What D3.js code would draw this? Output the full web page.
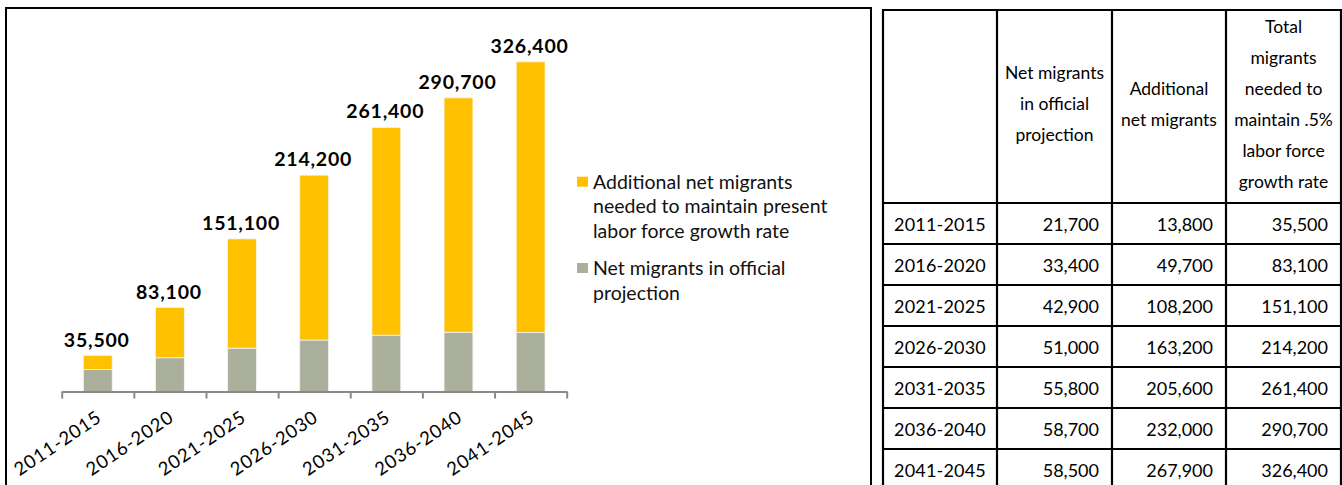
<!DOCTYPE html>
<html>
<head>
<meta charset="utf-8">
<script src="https://cdn.jsdelivr.net/npm/d3@7/dist/d3.min.js"></script>
<style>
  html, body { margin: 0; padding: 0; background: #fff; }
  svg { display: block; font-family: Lato, "Noto Sans", sans-serif; }
</style>
</head>
<body>
<svg id="chart" width="1342" height="485"></svg>
<script>
// Five-year periods
const periods = ["2011-2015", "2016-2020", "2021-2025", "2026-2030", "2031-2035", "2036-2040", "2041-2045"];
// Net migrants in the official projection
const official = [21700, 33400, 42900, 51000, 55800, 58700, 58500];
// Additional net migrants needed to keep the labor force growing
const additional = [13800, 49700, 108200, 163200, 205600, 232000, 267900];
// Total migrants needed to maintain .5% labor force growth
const totals = [35500, 83100, 151100, 214200, 261400, 290700, 326400];

const seriesNames = [
  ["Additional net migrants", "needed to maintain present", "labor force growth rate"],
  ["Net migrants in official", "projection"]
];
const tableHeaders = [
  [],
  ["Net migrants", "in official", "projection"],
  ["Additional", "net migrants"],
  ["Total", "migrants", "needed to", "maintain .5%", "labor force", "growth rate"]
];

const YELLOW = "#ffc000";
const GREY = "#aab09c";

const svg = d3.select("#chart");
const fmt = d3.format(",");

// ---- chart frame ----
svg.append("rect")
  .attr("x", 6).attr("y", 8).attr("width", 865).attr("height", 600)
  .attr("fill", "none").attr("stroke", "#000").attr("stroke-width", 2);

// ---- scales ----
const x0 = 61.7, x1 = 566.7, baseY = 391.5;
const x = d3.scaleBand().domain(periods).range([x0, x1])
  .paddingInner(0.6).paddingOuter(0.3);
const y = d3.scaleLinear().domain([0, 350000]).range([baseY, 38]);

const stack = d3.stack().keys(["official", "additional"]);
const rows = periods.map((p, i) => ({ period: p, official: official[i], additional: additional[i] }));
const layers = stack(rows);
const colors = { official: GREY, additional: YELLOW };

const g = svg.append("g");
g.selectAll("g.layer").data(layers).join("g")
  .attr("class", "layer")
  .attr("fill", d => colors[d.key])
  .selectAll("rect").data(d => d).join("rect")
  .attr("x", d => x(d.data.period))
  .attr("width", x.bandwidth())
  .attr("y", d => y(d[1]))
  .attr("height", d => y(d[0]) - y(d[1]))
  .attr("stroke", "#f4f4ee").attr("stroke-width", 0.8);

// ---- category axis (ticks between categories) ----
const tickScale = d3.scaleLinear().domain([0, periods.length]).range([x0, x1]);
const axis = svg.append("g")
  .attr("transform", `translate(0,${baseY})`)
  .call(d3.axisBottom(tickScale).tickValues(d3.range(periods.length + 1))
    .tickFormat("").tickSizeInner(7).tickSizeOuter(0));
axis.select(".domain").attr("stroke", "#898989").attr("stroke-width", 2);
axis.selectAll(".tick line").attr("stroke", "#898989").attr("stroke-width", 2);

svg.append("g").selectAll("text").data(periods).join("text")
  .attr("transform", d => `translate(${x(d) + x.bandwidth() / 2 - 2},${baseY + 18}) rotate(-34)`)
  .attr("text-anchor", "end")
  .attr("dy", "0.7em")
  .attr("font-size", 18.5)
  .attr("letter-spacing", 0.9)
  .attr("fill", "#000")
  .text(d => d);

// ---- total labels ----
svg.append("g").selectAll("text").data(periods).join("text")
  .attr("x", d => x(d) + x.bandwidth() / 2 - 1)
  .attr("y", (d, i) => y(totals[i]) - 9)
  .attr("text-anchor", "middle")
  .attr("font-size", 19.5).attr("font-weight", 700)
  .attr("letter-spacing", 0.8)
  .attr("fill", "#000")
  .text((d, i) => fmt(totals[i]));

// ---- legend ----
const legendItems = [
  { color: YELLOW, lines: seriesNames[0], top: 181.7 },
  { color: GREY, lines: seriesNames[1], top: 268 }
];
const lg = svg.append("g");
legendItems.forEach(item => {
  lg.append("rect").attr("x", 577).attr("y", item.top - 5).attr("width", 11).attr("height", 10)
    .attr("fill", item.color);
  lg.append("text").attr("font-size", 19.5).attr("fill", "#111")
    .selectAll("tspan").data(item.lines).join("tspan")
    .attr("x", 593).attr("y", (d, i) => item.top + 7 + i * 24.5)
    .text(d => d);
});

// ---- data table ----
const colX = [883, 997, 1112, 1226, 1341];
const rowY = [10, 203, 244, 285, 326, 367, 408, 449, 490];
const tbl = svg.append("g");

// grid
tbl.selectAll("line.v").data(colX).join("line")
  .attr("x1", d => d).attr("x2", d => d)
  .attr("y1", rowY[0] - 1).attr("y2", 520)
  .attr("stroke", "#000").attr("stroke-width", 2.2);
tbl.selectAll("line.h").data(rowY).join("line")
  .attr("x1", colX[0] - 1).attr("x2", colX[colX.length - 1] + 1)
  .attr("y1", d => d).attr("y2", d => d)
  .attr("stroke", "#000").attr("stroke-width", 2.2);

// header
const headMid = (rowY[0] + rowY[1]) / 2 - 2.5;
const headLH = 31;
tableHeaders.forEach((lines, c) => {
  if (!lines.length) return;
  const cx = (colX[c] + colX[c + 1]) / 2;
  const firstY = headMid - (lines.length - 1) * headLH / 2 + 6;
  tbl.append("text").attr("font-size", 17.5).attr("text-anchor", "middle").attr("fill", "#000")
    .selectAll("tspan").data(lines).join("tspan")
    .attr("x", cx).attr("y", (d, i) => firstY + i * headLH)
    .text(d => d);
});

// body rows
const bodyCols = [official, additional, totals];
periods.forEach((p, r) => {
  const cy = (rowY[r + 1] + rowY[r + 2]) / 2 + 7.5;
  tbl.append("text").attr("x", colX[0] + 11).attr("y", cy)
    .attr("font-size", 18).attr("letter-spacing", 0.2).attr("fill", "#000").text(p);
  bodyCols.forEach((vals, c) => {
    tbl.append("text").attr("x", colX[c + 2] - 13).attr("y", cy)
      .attr("text-anchor", "end").attr("font-size", 18).attr("fill", "#000")
      .text(fmt(vals[r]));
  });
});
</script>
</body>
</html>
